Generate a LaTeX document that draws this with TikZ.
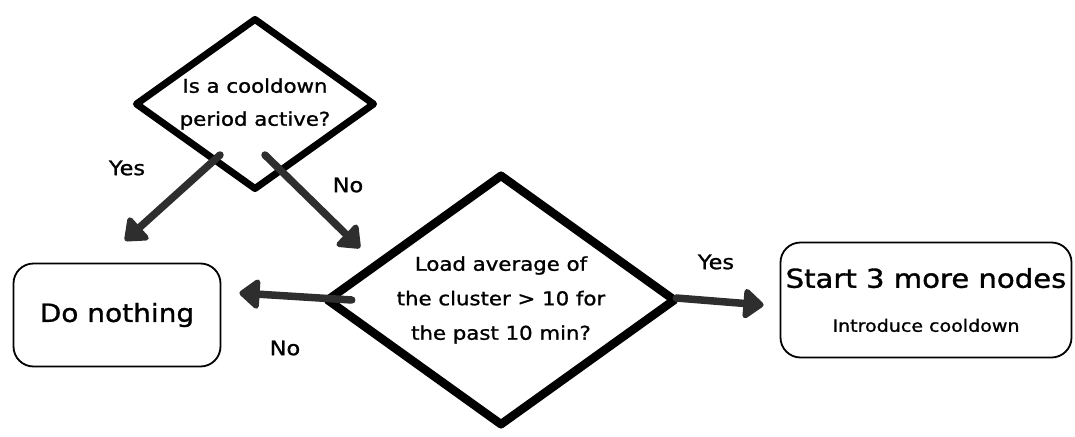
\documentclass[tikz,border=0pt]{standalone}
\usepackage{fontspec}
\setmainfont{DejaVu Sans}[FakeStretch=1.12,FakeBold=1.2]
\usetikzlibrary{shapes.geometric,arrows.meta,calc}
\begin{document}
\begin{tikzpicture}[x=1pt,y=-1pt,
  decision/.style={draw=black,shape=diamond,line width=7pt,line join=round,
    inner sep=-40pt,align=center,font=\fontsize{19}{33}\selectfont},
  outcome/.style={draw=black,line width=1.8pt,rounded corners=20pt,
    inner sep=0pt,align=center},
  flow/.style={draw=black!82,line width=7.5pt,line cap=round,
    -{Triangle[length=22pt,width=34pt,round]}},
  answer/.style={font=\fontsize{20}{22}\selectfont,inner sep=0pt}]
  \useasboundingbox (0,0) rectangle (1075,436);

  % decisions
  \node[decision,minimum width=240pt,minimum height=172pt]
    (cool) at (255,104) {Is a cooldown\\period active?};
  \node[decision,line width=8.5pt,minimum width=350pt,minimum height=252pt,
    font=\fontsize{19}{34.5}\selectfont]
    (load) at (501,300) {Load average of\\the cluster > 10 for\\the past 10 min?};

  % outcomes
  \node[outcome,minimum width=207pt,minimum height=103pt,
    font=\fontsize{25}{30}\selectfont] (nothing) at (117,315) {Do nothing};
  \node[outcome,minimum width=291pt,minimum height=115pt,
    font=\fontsize{26}{44}\selectfont] (start) at (926,300)
    {Start 3 more nodes\\
     {\fontsize{17}{20}\selectfont Introduce cooldown}};

  % connectors
  \draw[flow] ($(cool.center)+(-35,51)$) -- ($(nothing.north)+(8,-22)$);
  \draw[flow] ($(cool.center)+(10,51)$) -- ($(load.center)+(-141,-52)$);
  \draw[flow] ($(load.west)+(30,0)$) -- ($(nothing.east)+(18,-22)$);
  \draw[flow] ($(load.east)+(-4,-2)$) -- ($(start.west)+(-16,5)$);

  % answers
  \node[answer] (yes1) at (127,168) {Yes};
  \node[answer] (no1) at (348,185) {No};
  \node[answer] (no2) at (285,348) {No};
  \node[answer] (yes2) at (716,262) {Yes};
\end{tikzpicture}
\end{document}
